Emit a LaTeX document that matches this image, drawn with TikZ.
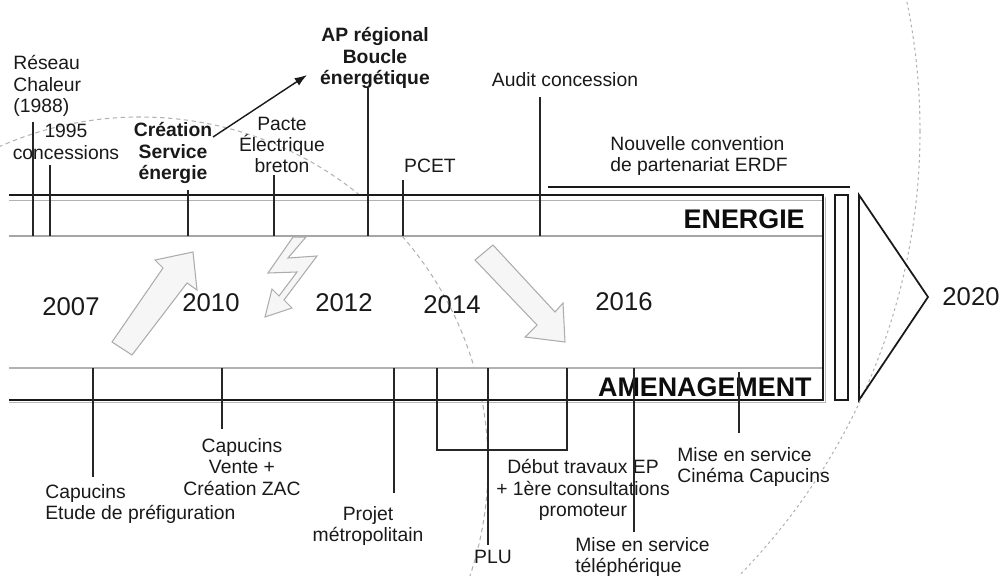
\documentclass[tikz,border=0pt]{standalone}
\usepackage{fontspec}
\setmainfont{Liberation Sans}
\usetikzlibrary{arrows.meta}
\begin{document}
\begin{tikzpicture}[x=0.02cm,y=-0.02cm,
  lbl/.style={inner sep=0pt, font=\fontsize{11}{12.2}\selectfont, text=black!90},
  blbl/.style={inner sep=0pt, font=\fontsize{11}{12.2}\selectfont\bfseries, text=black!90},
  yr/.style={inner sep=0pt, font=\fontsize{14.6}{16}\selectfont, text=black!90},
  bandlbl/.style={inner sep=0pt, font=\fontsize{15.3}{17}\selectfont\bfseries, text=black!95},
  tickline/.style={line width=1pt, black!85},
  dashcurve/.style={gray!60, line width=0.6pt, dash pattern=on 2.5pt off 2pt},
  dotcurve/.style={gray!60, line width=0.6pt, dash pattern=on 1.5pt off 1.8pt},
  blockarrow/.style={fill=gray!7, draw=gray!65, line width=0.6pt, line join=miter},
  frame/.style={line width=1.2pt, black!90},
]
\useasboundingbox (0,0) rectangle (1003,575);

% dashed arcs
\begin{scope}
  \clip (0,0) rectangle (1003,575);
  \draw[dashcurve] (140,465) circle[radius=348];
  \draw[dotcurve] (283,131) circle[radius=637];
\end{scope}

% bands
\fill[white] (9,195) rectangle (823,236);
\fill[white] (9,368) rectangle (823,400);
\draw[gray!55, line width=0.8pt] (9,402.5) -- (825.5,402.5) -- (825.5,197);
\draw[gray!60, line width=0.7pt] (9,200.5) -- (823,200.5);
\draw[gray!70, line width=0.8pt] (9,236) -- (823,236);
\draw[gray!60, line width=0.7pt] (9,368) -- (823,368);
\draw[frame] (9,195) -- (823,195) -- (823,400) -- (9,400);

% end marks
\draw[frame, line width=1pt] (835,195) rectangle (848,400);
\draw[frame, line width=1pt, line join=miter] (859,195) -- (928,297) -- (859,400) -- cycle;
\draw[frame] (548,187) -- (850,187);

% band labels
\node[bandlbl, anchor=east] (energie) at (805,219) {ENERGIE};
\node[bandlbl, anchor=east] (amenag) at (812,387) {AMENAGEMENT};

% years
\node[yr] (y2007) at (71,307) {2007};
\node[yr] (y2010) at (211,303) {2010};
\node[yr] (y2012) at (344,303) {2012};
\node[yr] (y2014) at (452,305) {2014};
\node[yr] (y2016) at (624,302) {2016};
\node[yr] (y2020) at (971,297) {2020};

% block arrows
\draw[blockarrow] (112,342) -- (163,268) -- (155,260) -- (193,252) -- (197,290) -- (187,283) -- (132,355) -- cycle;
\draw[blockarrow] (293,237) -- (306,237) -- (288,258) -- (317,256) -- (284,300) -- (292,308) -- (265,317) -- (272,289) -- (279,296) -- (297,272) -- (268,273) -- cycle;
\draw[blockarrow] (475,260) -- (493,245) -- (555,312) -- (563,303) -- (565,342) -- (525,337) -- (537,325) -- cycle;

% top labels
\node[lbl, anchor=west, align=left] (reseau) at (13,86) {Réseau\\Chaleur\\(1988)};
\node[lbl, align=center] (c1995) at (66,142) {1995\\concessions};
\node[blbl, align=center] (crea) at (173,153) {Création\\Service\\énergie};
\node[lbl, align=center] (pacte) at (282,145) {Pacte\\Électrique\\breton};
\node[blbl, align=center] (ap) at (375,58) {AP régional\\Boucle\\énergétique};
\node[lbl] (pcet) at (430,166) {PCET};
\node[lbl] (audit) at (565,80) {Audit concession};
\node[lbl, anchor=west, align=left] (nouv) at (610,156) {Nouvelle convention\\de partenariat ERDF};

% bottom labels
\node[lbl, anchor=west, align=left] (capE) at (45,504) {Capucins\\Etude de préfiguration};
\node[lbl, align=center] (capV) at (242,467) {Capucins\\Vente +\\Création ZAC};
\node[lbl, align=center] (projet) at (368,526) {Projet\\métropolitain};
\node[lbl] (plu) at (493,557) {PLU};
\node[lbl, align=center] (debut) at (583,490) {Début travaux EP\\+ 1ère consultations\\promoteur};
\node[lbl, anchor=west, align=left] (tele) at (575,557) {Mise en service\\téléphérique};
\node[lbl, anchor=west, align=left] (cine) at (677,467) {Mise en service\\Cinéma Capucins};

% top ticks
\draw[tickline] (33,122) -- (33,236);
\draw[tickline] (50,165) -- (50,236);
\draw[tickline] (188,190) -- (188,236);
\draw[tickline] (274,175) -- (274,236);
\draw[tickline] (368,88) -- (368,236);
\draw[tickline] (403,180) -- (403,236);
\draw[tickline] (540,97) -- (540,236);

% bottom ticks
\draw[tickline] (93,368) -- (93,477);
\draw[tickline] (222,368) -- (222,429);
\draw[tickline] (394,368) -- (394,493);
\draw[tickline] (437,368) -- (437,450) -- (567,450) -- (567,368);
\draw[tickline] (488,368) -- (488,545);
\draw[tickline] (634,368) -- (634,532);
\draw[tickline] (739,372) -- (739,433);

% arrow Creation -> AP regional
\coordinate (creaArr) at (213,137);
\coordinate (apArr) at (307,75);
\draw[-{Latex[length=7pt,width=5pt]}, line width=0.8pt, black!90] (creaArr) -- (apArr);
\end{tikzpicture}
\end{document}
